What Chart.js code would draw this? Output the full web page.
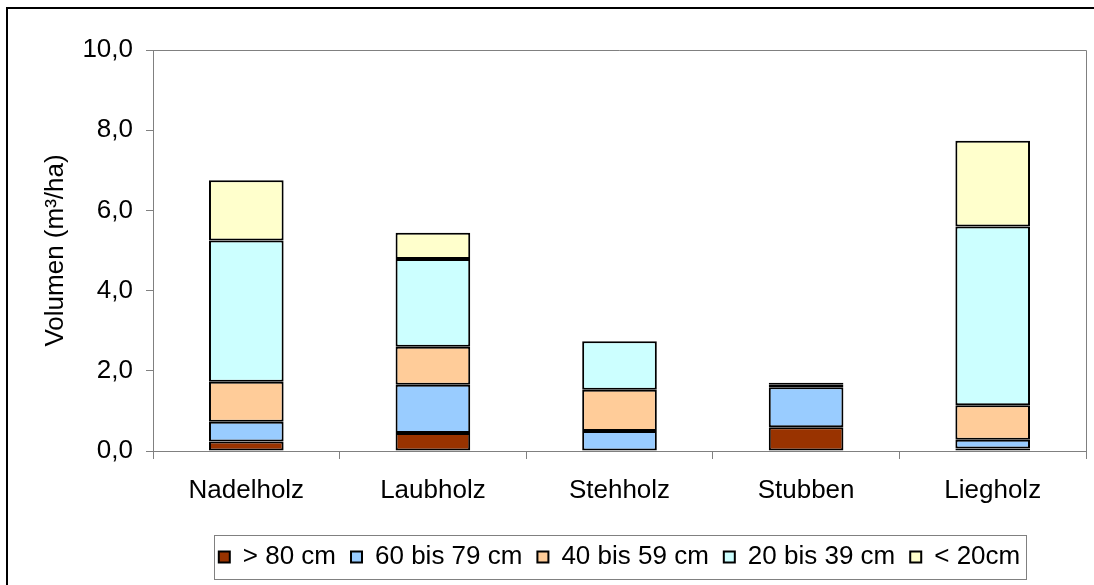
<!DOCTYPE html>
<html>
<head>
<meta charset="utf-8">
<script src="https://cdn.jsdelivr.net/npm/chart.js@4.4.1/dist/chart.umd.min.js"></script>
<style>
  html, body { margin: 0; padding: 0; background: #fff; }
  #wrap { width: 1094px; height: 585px; position: relative; }
</style>
</head>
<body>
<div id="wrap"><canvas id="c" width="1094" height="585"></canvas></div>
<script>
// ---- data ----
const categories = ['Nadelholz', 'Laubholz', 'Stehholz', 'Stubben', 'Liegholz'];
const seriesNames = ['> 80 cm', '60 bis 79 cm', '40 bis 59 cm', '20 bis 39 cm', '< 20cm'];
const over80    = [0.24, 0.45, 0.00, 0.59, 0.06];
const d60to79   = [0.49, 1.20, 0.50, 1.00, 0.22];
const d40to59   = [1.00, 0.95, 1.03, 0.06, 0.86];
const d20to39   = [3.52, 2.19, 1.21, 0.05, 4.46];
const under20   = [1.50, 0.65, 0.00, 0.00, 2.14];
const yTickLabels = ['0,0', '2,0', '4,0', '6,0', '8,0', '10,0'];
const seriesColors = ['#993300', '#99CCFF', '#FFCC99', '#CCFFFF', '#FFFFCC'];
const seriesValues = [over80, d60to79, d40to59, d20to39, under20];

const FONT = "'Liberation Sans', Arial, sans-serif";
const FS = 26;
const AXIS_GRAY = '#808080';

const frameAndLegendBox = {
  id: 'frameAndLegendBox',
  beforeDraw(chart) {
    const ctx = chart.ctx;
    ctx.save();
    ctx.fillStyle = '#fff';
    ctx.fillRect(0, 0, chart.width, chart.height);
    ctx.restore();
  },
  afterDraw(chart) {
    const ctx = chart.ctx;
    const a = chart.chartArea;
    ctx.save();
    // outer chart frame
    ctx.strokeStyle = '#000';
    ctx.lineWidth = 2;
    ctx.strokeRect(7, 8, chart.width + 50, chart.height + 50);
    // plot area top & right border
    ctx.strokeStyle = AXIS_GRAY;
    ctx.lineWidth = 1;
    ctx.beginPath();
    ctx.moveTo(a.left, a.top + 0.5);
    ctx.lineTo(a.right + 0.5, a.top + 0.5);
    ctx.lineTo(a.right + 0.5, a.bottom);
    ctx.stroke();
    // legend border
    const hb = chart.legend && chart.legend.legendHitBoxes;
    if (hb && hb.length) {
      let l = Infinity, r = -Infinity, t = Infinity, b = -Infinity;
      hb.forEach(h => {
        l = Math.min(l, h.left); r = Math.max(r, h.left + h.width);
        t = Math.min(t, h.top); b = Math.max(b, h.top + h.height);
      });
      ctx.strokeStyle = AXIS_GRAY;
      ctx.lineWidth = 1;
      ctx.strokeRect(Math.round(l - 5) + 0.5, Math.round(t - 9) + 0.5,
                     Math.round(r - l + 11), Math.round(b - t + 18));
    }
    ctx.restore();
  }
};

new Chart(document.getElementById('c'), {
  type: 'bar',
  data: {
    labels: categories,
    datasets: seriesNames.map((name, i) => ({
      label: name,
      data: seriesValues[i],
      backgroundColor: seriesColors[i],
      borderColor: '#000',
      borderWidth: 2,
      borderSkipped: false,
      barPercentage: 0.4,
      categoryPercentage: 1.0
    }))
  },
  options: {
    responsive: false,
    animation: false,
    devicePixelRatio: 1,
    layout: { padding: { left: 10, right: 8, top: 50, bottom: 5 } },
    plugins: {
      tooltip: { enabled: false },
      legend: {
        position: 'bottom',
        fullSize: false,
        labels: {
          color: '#000',
          font: { family: FONT, size: FS },
          boxWidth: 11,
          boxHeight: 11,
          padding: 15
        }
      }
    },
    scales: {
      x: {
        stacked: true,
        grid: { display: true, drawOnChartArea: false, drawTicks: true, tickLength: 8, color: AXIS_GRAY, offset: true },
        border: { display: true, color: AXIS_GRAY, width: 1 },
        ticks: { color: '#000', font: { family: FONT, size: FS }, padding: 16, maxRotation: 0 },
        afterFit(scale) { scale.height = 78; }
      },
      y: {
        stacked: true,
        min: 0, max: 10,
        ticks: {
          stepSize: 2,
          color: '#000',
          font: { family: FONT, size: FS },
          padding: 13,
          callback: (v) => yTickLabels[Math.round(v / 2)]
        },
        grid: { display: true, drawOnChartArea: false, drawTicks: true, tickLength: 7, color: AXIS_GRAY },
        border: { display: true, color: AXIS_GRAY, width: 1 },
        title: {
          display: true,
          text: 'Volumen (m³/ha)',
          color: '#000',
          font: { family: FONT, size: FS },
          padding: { top: 30, bottom: 0 }
        },
        afterFit(scale) { scale.width = 143; }
      }
    }
  },
  plugins: [frameAndLegendBox]
});
</script>
</body>
</html>
